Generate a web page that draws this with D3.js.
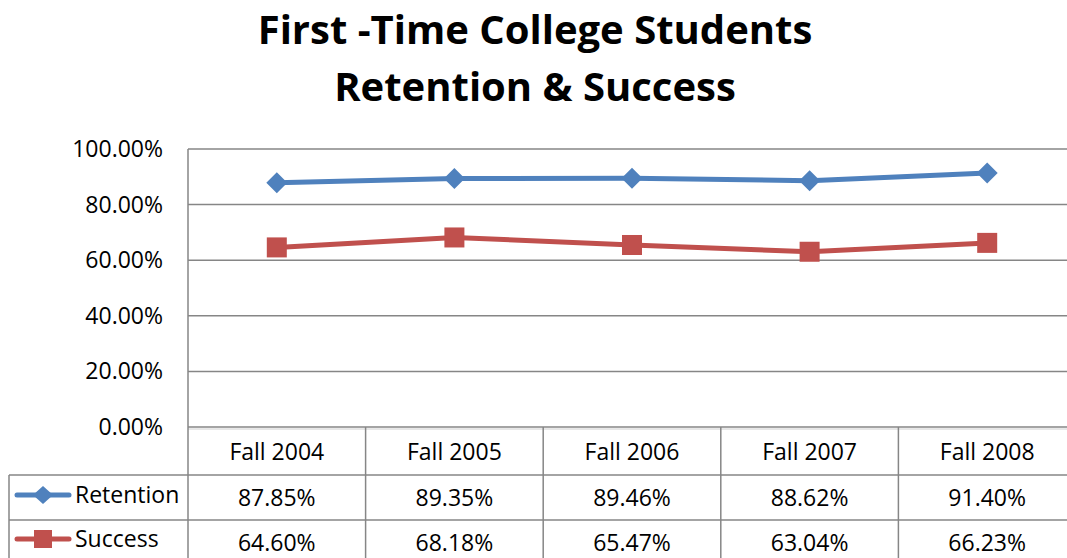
<!DOCTYPE html>
<html><head><meta charset="utf-8">
<script src="https://cdn.jsdelivr.net/npm/d3@7"></script>
<style>body{margin:0;background:#fff;overflow:hidden}svg{display:block}</style>
</head><body>
<svg id="c" width="1067" height="558"></svg>
<script>
const categories = ["Fall 2004","Fall 2005","Fall 2006","Fall 2007","Fall 2008"];
const retention = [87.85, 89.35, 89.46, 88.62, 91.40];
const success = [64.60, 68.18, 65.47, 63.04, 66.23];
const yTicks = [0, 20, 40, 60, 80, 100];
const seriesNames = ["Retention", "Success"];
const titleLines = ["First -Time College Students", "Retention & Success"];

const FONT = "'Open Sans', 'Liberation Sans', sans-serif";
const svg = d3.select("#c");
const L = 188, T = 149, B = 427, colW = 177.6;
const x = d3.scaleBand().domain(categories).range([L, L + colW*categories.length]).padding(0);
const y = d3.scaleLinear().domain([0, 100]).range([B, T]);
const grid = "#868686";

// title
svg.selectAll("text.title").data(titleLines).enter().append("text")
  .attr("x", 535).attr("y", (d,i)=> 44 + i*57)
  .attr("text-anchor","middle").attr("font-family",FONT).attr("font-weight","bold")
  .attr("font-size", 40).attr("fill","#000").text(d=>d);

// gridlines
svg.append("g").selectAll("line").data(yTicks.filter(d=>d>0)).enter().append("line")
  .attr("x1", L).attr("x2", 1067).attr("y1", d=>y(d)).attr("y2", d=>y(d))
  .attr("stroke", grid).attr("stroke-width", 1.5);

// y axis labels
svg.append("g").selectAll("text").data(yTicks).enter().append("text")
  .attr("x", 163).attr("y", d=>y(d)+8).attr("text-anchor","end")
  .attr("font-family",FONT).attr("font-size",23).attr("fill","#000")
  .text(d=>d3.format(".2f")(d)+"%");

// table
const tg = svg.append("g");
tg.append("line").attr("x1",L).attr("x2",1067).attr("y1",B).attr("y2",B).attr("stroke",grid).attr("stroke-width",1.5);
tg.append("line").attr("x1",L).attr("x2",1067).attr("y1",B+2).attr("y2",B+2).attr("stroke","#d0d0d0").attr("stroke-width",1);
[475, 520].forEach(yy=>{
  tg.append("line").attr("x1",9).attr("x2",1067).attr("y1",yy).attr("y2",yy).attr("stroke",grid).attr("stroke-width",1.5);
});
tg.append("line").attr("x1",L).attr("x2",L).attr("y1",T).attr("y2",558).attr("stroke",grid).attr("stroke-width",1.5);
tg.selectAll("line.v").data(categories.slice(1)).enter().append("line")
  .attr("x1", d=>x(d)).attr("x2", d=>x(d)).attr("y1", B).attr("y2", 558)
  .attr("stroke", grid).attr("stroke-width",1.5);
tg.append("line").attr("x1",9).attr("x2",9).attr("y1",475).attr("y2",558).attr("stroke",grid).attr("stroke-width",1.5);

tg.selectAll("text.h").data(categories).enter().append("text")
  .attr("x", d=>x(d)+x.bandwidth()/2).attr("y", 460).attr("text-anchor","middle")
  .attr("font-family",FONT).attr("font-size",23).attr("fill","#000").text(d=>d);
const fmt = d=>d3.format(".2f")(d)+"%";
[[retention, 506],[success, 551]].forEach(([arr, yy])=>{
  tg.selectAll(null).data(arr).enter().append("text")
    .attr("x", (d,i)=>x(categories[i])+x.bandwidth()/2).attr("y", yy).attr("text-anchor","middle")
    .attr("font-family",FONT).attr("font-size",23).attr("fill","#000").text(fmt);
});

// series
const series = [
  {name: seriesNames[0], vals: retention, color: "#4F81BD", shape: "diamond", row: 495},
  {name: seriesNames[1], vals: success, color: "#C0504D", shape: "square", row: 539}
];
const line = d3.line().x((d,i)=>x(categories[i])+x.bandwidth()/2).y(d=>y(d));
series.forEach(s=>{
  svg.append("path").datum(s.vals).attr("d", line).attr("fill","none")
    .attr("stroke", s.color).attr("stroke-width", 5).attr("stroke-linejoin","round");
  s.vals.forEach((v,i)=>{
    const g = svg.append("g").attr("transform",`translate(${x(categories[i])+x.bandwidth()/2},${y(v)})`);
    if(s.shape==="diamond"){
      g.append("path").attr("d","M0,-10.5L10.5,0L0,10.5L-10.5,0Z").attr("fill",s.color);
    } else {
      g.append("rect").attr("x",-10).attr("y",-10).attr("width",20).attr("height",20).attr("fill",s.color);
    }
  });
  svg.append("line").attr("x1",17).attr("x2",69).attr("y1",s.row).attr("y2",s.row)
    .attr("stroke",s.color).attr("stroke-width",5).attr("stroke-linecap","round");
  const lg = svg.append("g").attr("transform",`translate(43,${s.row})`);
  if(s.shape==="diamond"){
    lg.append("path").attr("d","M0,-9L10,0L0,9L-10,0Z").attr("fill",s.color);
  } else {
    lg.append("rect").attr("x",-9).attr("y",-9).attr("width",18).attr("height",18).attr("fill",s.color);
  }
  svg.append("text").attr("x",75).attr("y",s.row+8).attr("font-family",FONT).attr("font-size",23)
    .attr("fill","#000").text(s.name);
});
</script>
</body></html>
